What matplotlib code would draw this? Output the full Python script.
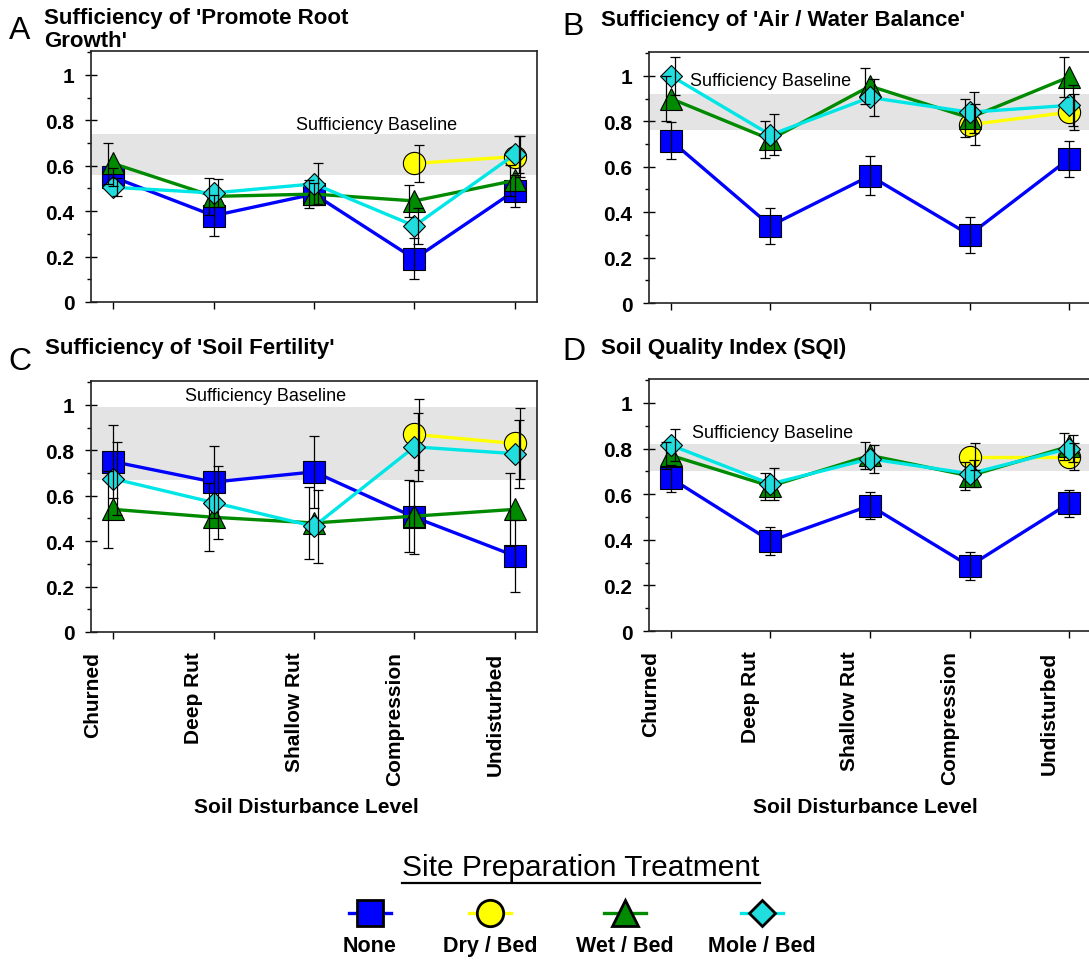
import numpy as np
import matplotlib.pyplot as plt
from matplotlib.ticker import MultipleLocator, FuncFormatter
from matplotlib.transforms import ScaledTranslation

plt.rcParams['font.family'] = ['Liberation Sans', 'DejaVu Sans']

W, H = 1089, 962

levels = ['Churned', 'Deep Rut', 'Shallow Rut', 'Compression', 'Undisturbed']
treatments = ['None', 'Dry / Bed', 'Wet / Bed', 'Mole / Bed']
nan = np.nan

# rows follow treatments: None, Dry / Bed, Wet / Bed, Mole / Bed
root_mean = [[0.55, 0.38, 0.475, 0.19, 0.49],
             [nan, nan, nan, 0.61, 0.64],
             [0.61, 0.465, 0.475, 0.445, 0.535],
             [0.505, 0.48, 0.52, 0.335, 0.65]]
root_err = [[0.04, 0.09, 0.05, 0.09, 0.07],
            [nan, nan, nan, 0.08, 0.09],
            [0.09, 0.08, 0.06, 0.07, 0.07],
            [0.04, 0.06, 0.09, 0.08, 0.08]]
root_band = (0.56, 0.74)

air_mean = [[0.715, 0.34, 0.56, 0.30, 0.635],
            [nan, nan, nan, 0.785, 0.84],
            [0.90, 0.72, 0.955, 0.815, 0.995],
            [1.00, 0.74, 0.905, 0.84, 0.87]]
air_err = [[0.08, 0.08, 0.085, 0.08, 0.08],
           [nan, nan, nan, 0.09, 0.08],
           [0.10, 0.08, 0.08, 0.085, 0.09],
           [0.085, 0.09, 0.08, 0.09, 0.09]]
air_band = (0.76, 0.92)

fert_mean = [[0.75, 0.66, 0.705, 0.505, 0.335],
             [nan, nan, nan, 0.87, 0.83],
             [0.54, 0.505, 0.48, 0.51, 0.54],
             [0.675, 0.57, 0.465, 0.815, 0.785]]
fert_err = [[0.16, 0.16, 0.16, 0.16, 0.16],
            [nan, nan, nan, 0.155, 0.155],
            [0.17, 0.15, 0.16, 0.16, 0.16],
            [0.16, 0.16, 0.16, 0.15, 0.15]]
fert_band = (0.67, 0.99)

sqi_mean = [[0.67, 0.395, 0.55, 0.285, 0.56],
            [nan, nan, nan, 0.765, 0.765],
            [0.77, 0.635, 0.77, 0.68, 0.81],
            [0.815, 0.645, 0.755, 0.69, 0.80]]
sqi_err = [[0.06, 0.06, 0.06, 0.06, 0.06],
           [nan, nan, nan, 0.06, 0.06],
           [0.06, 0.06, 0.06, 0.06, 0.06],
           [0.07, 0.07, 0.06, 0.06, 0.06]]
sqi_band = (0.70, 0.82)

# styling per treatment
line_colors = ['#0000ff', '#ffff00', '#008a00', '#00e6e6']
fill_colors = ['#0000ff', '#ffff00', '#008a00', '#22dddd']
markers = ['s', 'o', '^', 'D']
msizes = [16, 16, 16, 11]
err_shift = [0.0, 0.05, -0.05, 0.04]

fig = plt.figure(figsize=(W / 100, H / 100), dpi=100)


def px_axes(left, top, right, bottom):
    return fig.add_axes([left / W, 1 - bottom / H, (right - left) / W, (bottom - top) / H])


def draw_panel(ax, means, errs, band, note, note_ha, show_levels):
    x = np.arange(len(levels))
    ax.axhspan(band[0], band[1], color='#e4e4e4', lw=0, zorder=0)
    ax.text(note[0], note[1], 'Sufficiency Baseline', fontsize=13, ha=note_ha,
            va='center', zorder=2)
    for i in range(len(treatments)):
        y = np.array(means[i], dtype=float)
        ax.plot(x, y, color=line_colors[i], lw=2.4, marker=markers[i],
                ms=msizes[i], mfc=fill_colors[i], mec='black', mew=0.8, zorder=3 + i)
        ax.errorbar(x + err_shift[i], y, yerr=np.array(errs[i], dtype=float),
                    fmt='none', ecolor='black', elinewidth=0.9, capsize=3.5,
                    capthick=0.9, zorder=10)
    ax.set_ylim(0, 1.105)
    ax.set_xlim(-0.22, 4.22)
    ax.yaxis.set_major_locator(MultipleLocator(0.2))
    ax.yaxis.set_minor_locator(MultipleLocator(0.1))
    ax.yaxis.set_major_formatter(FuncFormatter(lambda v, _: f'{v:g}'))
    ax.set_xticks(x, levels, rotation=90)
    ax.tick_params(axis='y', which='major', direction='inout', length=8, width=1,
                   labelsize=15, pad=8)
    ax.tick_params(axis='y', which='minor', direction='out', length=3, width=1)
    ax.tick_params(axis='x', direction='out', length=5, width=1, labelsize=15, pad=9,
                   labelbottom=show_levels)
    for lab in ax.get_xticklabels() + ax.get_yticklabels():
        lab.set_fontweight('bold')
    shift = ScaledTranslation(-0.2, 0, fig.dpi_scale_trans)
    for lab in ax.get_xticklabels():
        lab.set_transform(lab.get_transform() + shift)
    for sp in ax.spines.values():
        sp.set_linewidth(1.2)
        sp.set_color('#222222')


ax_a = px_axes(91, 52, 537, 303)
ax_b = px_axes(649, 53, 1091, 304)
ax_c = px_axes(91, 382, 537, 633)
ax_d = px_axes(649, 380, 1091, 632)

draw_panel(ax_a, root_mean, root_err, root_band, (2.62, 0.78), 'center', False)
draw_panel(ax_b, air_mean, air_err, air_band, (0.19, 0.98), 'left', False)
draw_panel(ax_c, fert_mean, fert_err, fert_band, (0.72, 1.04), 'left', True)
draw_panel(ax_d, sqi_mean, sqi_err, sqi_band, (0.21, 0.87), 'left', True)

# panel letters and titles
ov = fig.add_axes([0, 0, 1, 1], zorder=-5)
ov.set_xlim(0, W)
ov.set_ylim(H, 0)
ov.axis('off')

heads = [('A', 9, 31, "Sufficiency of 'Promote Root\nGrowth'", 44, 8),
         ('B', 562, 27, "Sufficiency of 'Air / Water Balance'", 601, 10),
         ('C', 8, 362, "Sufficiency of 'Soil Fertility'", 45, 338),
         ('D', 562, 352, "Soil Quality Index (SQI)", 601, 338)]
for letter, lx, ly, title, tx, ty in heads:
    ov.text(lx, ly, letter, fontsize=23, ha='left', va='center')
    ov.text(tx, ty, title, fontsize=16, fontweight='bold', ha='left', va='top',
            linespacing=1.15)

ov.text(306, 808, 'Soil Disturbance Level', fontsize=15, fontweight='bold',
        ha='center', va='center')
ov.text(865, 808, 'Soil Disturbance Level', fontsize=15, fontweight='bold',
        ha='center', va='center')

# legend block
ov.text(581, 868, 'Site Preparation Treatment', fontsize=21.5, ha='center', va='center')
ov.plot([402, 760], [884, 884], color='black', lw=1.6)
leg_x = [370, 490, 625, 762]
leg_ms = [19, 19, 19, 13]
for i, name in enumerate(treatments):
    cx = leg_x[i]
    ov.plot([cx - 21, cx + 21], [914, 914], color=line_colors[i], lw=2.4)
    ov.plot([cx], [914], marker=markers[i], ms=leg_ms[i], mfc=fill_colors[i],
            mec='black', mew=2)
    ov.text(cx, 947, name, fontsize=15.5, fontweight='bold', ha='center', va='center')

fig.savefig('out.png', dpi=100)
